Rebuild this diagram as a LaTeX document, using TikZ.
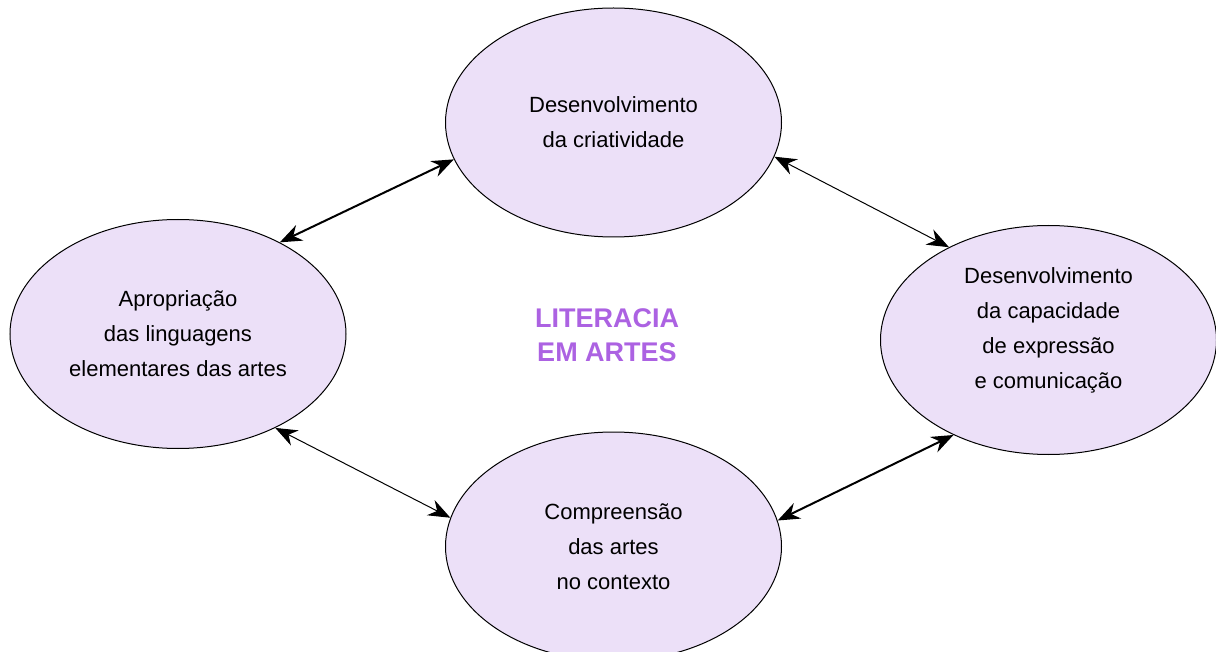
\documentclass[tikz,border=0pt]{standalone}
\usepackage{fontspec}
\setmainfont{Liberation Sans}
\usepackage{tikz}
\usetikzlibrary{shapes.geometric, arrows.meta}
\definecolor{lilac}{RGB}{236,224,248}
\definecolor{violet}{RGB}{172,98,226}
\tikzstyle{area} = [ellipse, minimum width=168pt, minimum
height=114.5pt, text centered, align=center, draw=black, line width=0.5pt,
fill=lilac, font=\fontsize{11}{17.5}\selectfont]
\tikzstyle{heading} = [align=center, text=violet,
font=\fontsize{13.5}{17}\selectfont\bfseries]
\tikzstyle{arrow} =
[<->, >={Stealth[length=11pt, width=8.5pt]}]

\begin{document}
\begin{tikzpicture}[x=0.5pt, y=-0.5pt]

\useasboundingbox(0,0) rectangle (1216,652);

\node(criat)[area] at (613.5,122.5){Desenvolvimento\\da criatividade};
\node(appr)[area] at (178,334){Apropriação\\das linguagens\\elementares das artes};
\node(expr)[area] at (1048.5,340){Desenvolvimento\\da capacidade\\de expressão\\e comunicação\\[-6pt]};
\node(compr)[area] at (613.5,546.5){Compreensão\\das artes\\no contexto};
\node(title)[heading] at (607,335){LITERACIA\\EM ARTES};

\draw[arrow, line width=1pt](appr.42) -- (criat.193);
\draw[arrow, line width=0.5pt](criat.348) -- (expr.137);
\draw[arrow, line width=0.5pt](appr.316) -- (compr.170);
\draw[arrow, line width=1pt](compr.9) -- (expr.225);

\end{tikzpicture}
\end{document}
